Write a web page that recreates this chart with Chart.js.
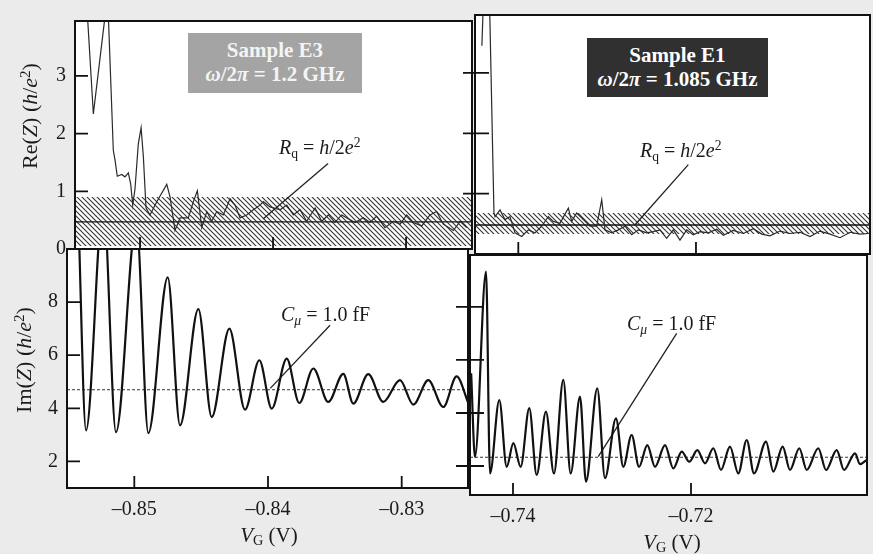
<!DOCTYPE html>
<html>
<head>
<meta charset="utf-8">
<script src="https://cdn.jsdelivr.net/npm/chart.js@4/dist/chart.umd.min.js"></script>
<style>
  html, body { margin: 0; padding: 0; }
  body { width: 873px; height: 554px; background: #ebebeb; position: relative; overflow: hidden;
         font-family: 'Liberation Serif', 'DejaVu Serif', serif; color: #1a1a1a; }
  canvas { position: absolute; left: 0; top: 0; }
  .lbl { position: absolute; font-size: 20px; line-height: 1; white-space: nowrap; z-index: 5; }
  .rot { position: absolute; font-size: 22px; line-height: 1; white-space: nowrap; z-index: 5;
         transform: translate(-50%, -50%) rotate(-90deg); }
  .ctr { position: absolute; font-size: 21px; line-height: 1; white-space: nowrap; z-index: 5;
         transform: translate(-50%, -50%); }
  sub { font-size: 0.68em; vertical-align: -0.28em; line-height: 0; font-style: normal; }
  sup { font-size: 0.68em; vertical-align: 0.5em; line-height: 0; }
  .box { position: absolute; z-index: 5; display: flex; flex-direction: column; justify-content: center;
         align-items: center; font-size: 21px; font-weight: bold; line-height: 1.12; }
</style>
</head>
<body>
<canvas id="reE3" width="873" height="554"></canvas>
<canvas id="reE1" width="873" height="554"></canvas>
<canvas id="imE3" width="873" height="554"></canvas>
<canvas id="imE1" width="873" height="554"></canvas>

<div class="box" style="left:188px;top:33px;width:174px;height:60px;background:#a4a4a4;color:#f4f4f4;">
  <div>Sample E3</div><div><i>ω</i>/2<i>π</i> = 1.2 GHz</div>
</div>
<div class="box" style="left:587px;top:38px;width:181px;height:59px;background:#303030;color:#fff;">
  <div>Sample E1</div><div><i>ω</i>/2<i>π</i> = 1.085 GHz</div>
</div>

<div class="lbl" style="left:279px;top:137px;"><i>R</i><sub>q</sub> = <i>h</i>/2<i>e</i><sup>2</sup></div>
<div class="lbl" style="left:640px;top:140px;"><i>R</i><sub>q</sub> = <i>h</i>/2<i>e</i><sup>2</sup></div>
<div class="lbl" style="left:281px;top:304px;"><i>C</i><sub><i>μ</i></sub> = 1.0 fF</div>
<div class="lbl" style="left:627px;top:313px;"><i>C</i><sub><i>μ</i></sub> = 1.0 fF</div>

<div class="rot" style="left:30px;top:116px;">Re(<i>Z</i>) (<i>h</i>/<i>e</i><sup>2</sup>)</div>
<div class="rot" style="left:24px;top:360px;">Im(<i>Z</i>) (<i>h</i>/<i>e</i><sup>2</sup>)</div>
<div class="ctr" style="left:269px;top:535px;"><i>V</i><sub>G</sub> (V)</div>
<div class="ctr" style="left:672px;top:542px;"><i>V</i><sub>G</sub> (V)</div>

<script>
// Re(Z), sample E3 (h/e^2) vs gate voltage (V)
const reE3_vg = [
  -0.8541, -0.85351, -0.85244, -0.85201, -0.85188, -0.85171, -0.85138, -0.85113,
  -0.85088, -0.8507, -0.85055, -0.85038, -0.85013, -0.84992, -0.84975, -0.84955,
  -0.84925, -0.84874, -0.84799, -0.84774, -0.84737, -0.84699, -0.84637, -0.84599,
  -0.84569, -0.84536, -0.84498, -0.84461, -0.84423, -0.84374, -0.84323, -0.84286,
  -0.84248, -0.84198, -0.84148, -0.84098, -0.84073, -0.84023, -0.83947, -0.83897,
  -0.83847, -0.83797, -0.83747, -0.83684, -0.83634, -0.83584, -0.83534, -0.83484,
  -0.83383, -0.83321, -0.83271, -0.83221, -0.83158, -0.83095, -0.83045, -0.82995,
  -0.82945, -0.82882, -0.8282, -0.8277, -0.8272, -0.82644, -0.82594, -0.82544
];
const reE3_z = [
  4.6, 2.34, 4.4, 1.71, 1.54, 1.26, 1.29, 1.25,
  1.32, 1.12, 0.76, 1.04, 1.82, 2.1, 1.6, 0.71,
  0.59, 0.82, 1.12, 0.9, 0.32, 0.54, 0.54, 0.82,
  1.01, 0.37, 0.65, 0.48, 0.65, 0.59, 0.87, 0.76,
  0.54, 0.59, 0.68, 0.76, 0.82, 0.73, 0.68, 0.76,
  0.59, 0.68, 0.48, 0.71, 0.48, 0.59, 0.46, 0.59,
  0.46, 0.54, 0.46, 0.57, 0.37, 0.48, 0.43, 0.59,
  0.46, 0.4, 0.59, 0.65, 0.43, 0.32, 0.48, 0.37
];

// Re(Z), sample E1
const reE1_vg = [
  -0.7441, -0.7437, -0.7433, -0.74274, -0.74262, -0.74206, -0.7415, -0.74094,
  -0.74037, -0.73962, -0.73887, -0.73812, -0.73737, -0.73662, -0.73606, -0.73531,
  -0.73437, -0.73399, -0.73343, -0.73268, -0.73193, -0.73118, -0.73061, -0.73024,
  -0.72949, -0.72874, -0.72799, -0.72724, -0.72649, -0.72555, -0.7248, -0.72405,
  -0.7233, -0.72255, -0.7218, -0.72104, -0.7203, -0.71955, -0.71861, -0.71767,
  -0.71692, -0.7158, -0.71467, -0.71354, -0.7126, -0.71167, -0.71054, -0.70941,
  -0.70829, -0.70716, -0.70604, -0.70491, -0.70378, -0.70266, -0.70153, -0.7006
];
const reE1_z = [
  3.45, 5.2, 4.6, 0.68, 0.62, 0.73, 0.57, 0.62,
  0.35, 0.29, 0.4, 0.35, 0.46, 0.62, 0.54, 0.51,
  0.76, 0.54, 0.68, 0.57, 0.46, 0.46, 0.9, 0.4,
  0.35, 0.4, 0.46, 0.32, 0.4, 0.35, 0.37, 0.4,
  0.26, 0.4, 0.23, 0.4, 0.32, 0.37, 0.35, 0.41,
  0.31, 0.39, 0.34, 0.42, 0.33, 0.3, 0.38, 0.34,
  0.36, 0.29, 0.38, 0.33, 0.27, 0.36, 0.33, 0.34
];

// Im(Z), sample E3 (peaks and troughs)
const imE3_vg = [
  -0.8542, -0.85361, -0.852315, -0.85137, -0.84985, -0.84895, -0.8475, -0.84658,
  -0.84521, -0.84421, -0.84289, -0.84172, -0.84065, -0.83972, -0.8386, -0.83766,
  -0.83661, -0.83549, -0.83437, -0.83362, -0.8325, -0.83138, -0.83013, -0.82913,
  -0.82801, -0.82689, -0.82589, -0.82502
];
const imE3_z = [
  11.5, 3.17, 11.8, 3.1, 11.0, 3.07, 8.93, 3.36,
  7.74, 3.67, 7.0, 3.95, 5.81, 3.99, 5.87, 4.2,
  5.5, 4.24, 5.3, 4.18, 5.29, 4.24, 5.06, 4.14,
  5.06, 4.05, 5.2, 4.2
];

// Im(Z), sample E1
const imE1_vg = [
  -0.7447, -0.74427, -0.74303, -0.74258, -0.74154, -0.74071, -0.73996, -0.73914,
  -0.73817, -0.73734, -0.7363, -0.7354, -0.73435, -0.73352, -0.73247, -0.7318,
  -0.73053, -0.72966, -0.72843, -0.72761, -0.72667, -0.72584, -0.72491, -0.72404,
  -0.72292, -0.72199, -0.72104, -0.72019, -0.71929, -0.71843, -0.71749, -0.71663,
  -0.71562, -0.71469, -0.71374, -0.71292, -0.71157, -0.71075, -0.7097, -0.70888,
  -0.70783, -0.707, -0.7057, -0.70483, -0.70363, -0.70281, -0.70157, -0.70101,
  -0.70026
];
const imE1_z = [
  5.5, 2.34, 9.33, 1.72, 4.49, 1.97, 2.86, 1.97,
  4.18, 1.66, 4.05, 1.72, 5.25, 1.72, 4.62, 1.41,
  4.93, 1.54, 3.8, 1.97, 3.17, 1.97, 2.79, 1.97,
  2.79, 1.91, 2.54, 2.16, 2.6, 2.1, 2.67, 1.85,
  2.73, 1.72, 2.98, 1.72, 2.92, 1.79, 2.73, 1.85,
  2.67, 1.85, 2.67, 1.85, 2.6, 1.85, 2.48, 2.07,
  2.23
];

// reference levels
const rqE3 = 0.47, rqE1 = 0.48;
const bandE3 = [0.05, 0.9];
const bandE1 = [0.33, 0.68];
const cmuE3 = 4.7, cmuE1 = 2.33;

// tick values
const ticksE3 = [-0.85, -0.84, -0.83];
const ticksE1 = [-0.74, -0.72];
const reTicks = [0, 1, 2, 3];
const imTicks = [2, 4, 6, 8];

// leader lines from the labels to the curves, [x1, y1, x2, y2]
const leadReE3 = [-0.83586, 1.48, -0.84075, 0.52];
const leadReE1 = [-0.72086, 1.48, -0.72688, 0.48];
const leadImE3 = [-0.83536, 7.13, -0.83983, 4.75];
const leadImE1 = [-0.72161, 7.0, -0.73042, 2.35];

const zip = (xs, ys) => xs.map((x, i) => ({ x, y: ys[i] }));

function hatchPattern() {
  const c = document.createElement('canvas');
  c.width = 5; c.height = 5;
  const g = c.getContext('2d');
  g.strokeStyle = '#333'; g.lineWidth = 1.1;
  g.beginPath();
  g.moveTo(-1, -1); g.lineTo(6, 6);
  g.moveTo(-1, 4); g.lineTo(1, 6);
  g.moveTo(4, -1); g.lineTo(6, 1);
  g.stroke();
  return g.createPattern(c, 'repeat');
}
const hatch = hatchPattern();

// white plot area, frame and inward ticks
const framePlugin = {
  id: 'frame',
  beforeDraw(chart) {
    const { ctx, chartArea: a } = chart;
    ctx.save(); ctx.fillStyle = '#fff';
    ctx.fillRect(a.left, a.top, a.width, a.height);
    ctx.restore();
  },
  afterDraw(chart, args, o) {
    const { ctx, chartArea: a, scales } = chart;
    ctx.save();
    ctx.strokeStyle = '#111'; ctx.lineWidth = 2;
    ctx.strokeRect(a.left, a.top, a.width, a.height);
    ctx.lineWidth = 1.8;
    ctx.beginPath();
    scales.x.ticks.forEach(t => {
      const px = scales.x.getPixelForValue(t.value);
      ctx.moveTo(px, a.bottom); ctx.lineTo(px, a.bottom - 12);
    });
    scales.y.ticks.forEach(t => {
      const py = scales.y.getPixelForValue(t.value);
      ctx.moveTo(a.left - o.out, py); ctx.lineTo(a.left + o.inn, py);
    });
    ctx.stroke();
    ctx.restore();
  }
};

const line = (x0, x1, y, extra) => Object.assign({
  data: [{ x: x0, y }, { x: x1, y }], borderColor: '#111', borderWidth: 1.4, pointRadius: 0, order: 1
}, extra);
const lead = l => ({
  data: [{ x: l[0], y: l[1] }, { x: l[2], y: l[3] }], borderColor: '#222', borderWidth: 1.3, pointRadius: 0, order: 0
});

function makePanel(id, c) {
  const W = 873, H = 554;
  const yW = c.yLabels ? 45 : 0;
  const xH = c.xLabels ? 40 : 0;
  return new Chart(document.getElementById(id), {
    type: 'line',
    data: { datasets: c.datasets },
    options: {
      responsive: false, animation: false, devicePixelRatio: 1,
      layout: { padding: { left: c.area.l - yW, top: c.area.t, right: W - c.area.r, bottom: H - c.area.b - xH } },
      elements: { point: { radius: 0 } },
      plugins: { legend: { display: false }, tooltip: { enabled: false }, frame: c.frame },
      scales: {
        x: {
          type: 'linear', min: c.x[0], max: c.x[1],
          afterBuildTicks: s => { s.ticks = c.xTicks.map(v => ({ value: v })); },
          afterFit: s => { s.height = xH; },
          grid: { display: false, drawTicks: false }, border: { display: false },
          ticks: {
            display: c.xLabels, autoSkip: false, maxRotation: 0, padding: 10, color: '#1a1a1a',
            font: { family: 'Liberation Serif', size: 20 },
            callback: v => '\u2013' + Math.abs(v).toFixed(2)
          }
        },
        y: {
          type: 'linear', min: c.y[0], max: c.y[1],
          afterBuildTicks: s => { s.ticks = c.yTicks.map(v => ({ value: v })); },
          afterFit: s => { s.width = yW; },
          grid: { display: false, drawTicks: false }, border: { display: false },
          ticks: {
            display: c.yLabels, autoSkip: false, padding: 9, color: '#1a1a1a',
            font: { family: 'Liberation Serif', size: 20 }
          }
        }
      }
    },
    plugins: [framePlugin]
  });
}

const xE3top = [-0.85489, -0.82504], xE1top = [-0.744875, -0.70041];
const xE3bot = [-0.855034, -0.825041], xE1bot = [-0.744831, -0.700225];

makePanel('reE3', {
  area: { l: 75, t: 12, r: 472, b: 249 }, x: xE3top, y: [0, 3.95],
  xTicks: ticksE3, yTicks: reTicks, xLabels: false, yLabels: true,
  frame: { out: 0, inn: 13 },
  datasets: [
    { data: zip(reE3_vg, reE3_z), borderColor: '#2a2a2a', borderWidth: 1.2, tension: 0, order: 0 },
    lead(leadReE3),
    line(xE3top[0], xE3top[1], rqE3),
    line(xE3top[0], xE3top[1], bandE3[1], { borderWidth: 0, fill: { value: bandE3[0] }, backgroundColor: hatch, order: 3 })
  ]
});

makePanel('reE1', {
  area: { l: 475, t: 15, r: 870, b: 254 }, x: xE1top, y: [0, 3.96],
  xTicks: ticksE1, yTicks: [1, 2, 3], xLabels: false, yLabels: false,
  frame: { out: 12, inn: 14 },
  datasets: [
    { data: zip(reE1_vg, reE1_z), borderColor: '#2a2a2a', borderWidth: 1.2, tension: 0, order: 0 },
    lead(leadReE1),
    line(xE1top[0], xE1top[1], rqE1),
    line(xE1top[0], xE1top[1], bandE1[1], { borderWidth: 0, fill: { value: bandE1[0] }, backgroundColor: hatch, order: 3 })
  ]
});

makePanel('imE3', {
  area: { l: 67, t: 249, r: 468, b: 488 }, x: xE3bot, y: [1, 10],
  xTicks: ticksE3, yTicks: imTicks, xLabels: true, yLabels: true,
  frame: { out: 0, inn: 13 },
  datasets: [
    { data: zip(imE3_vg, imE3_z), borderColor: '#111', borderWidth: 2.2, cubicInterpolationMode: 'monotone', order: 0 },
    lead(leadImE3),
    line(xE3bot[0], xE3bot[1], cmuE3, { borderWidth: 1, borderDash: [3, 2], borderColor: '#333' })
  ]
});

makePanel('imE1', {
  area: { l: 470, t: 255, r: 867, b: 495 }, x: xE1bot, y: [0.906, 9.96],
  xTicks: ticksE1, yTicks: imTicks, xLabels: true, yLabels: false,
  frame: { out: 14, inn: 14 },
  datasets: [
    { data: zip(imE1_vg, imE1_z), borderColor: '#111', borderWidth: 2.2, cubicInterpolationMode: 'monotone', order: 0 },
    lead(leadImE1),
    line(xE1bot[0], xE1bot[1], cmuE1, { borderWidth: 1, borderDash: [3, 2], borderColor: '#333' })
  ]
});
</script>
</body>
</html>
